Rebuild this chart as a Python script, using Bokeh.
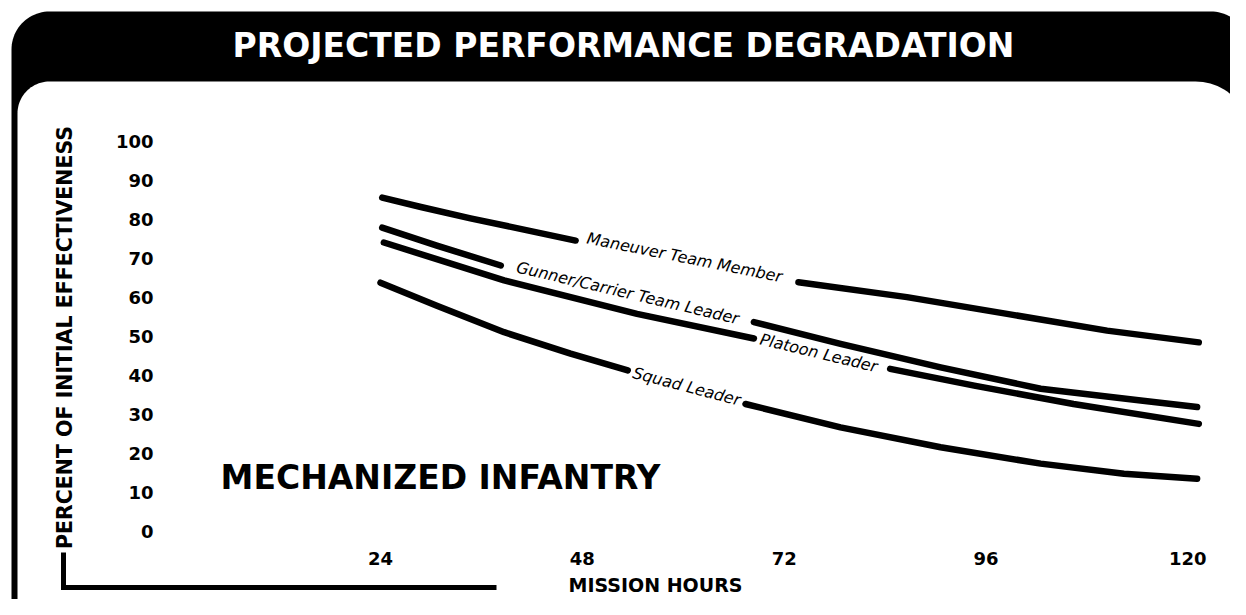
import numpy as np
from bokeh.plotting import figure
from bokeh.models import Range1d
from bokeh.core.properties import value
from bokeh.embed import file_html
from bokeh.resources import INLINE

nan = float("nan")

# ---------------- data ----------------
TITLE = "PROJECTED PERFORMANCE DEGRADATION"
SUBTITLE = "MECHANIZED INFANTRY"
Y_LABEL = "PERCENT OF INITIAL EFFECTIVENESS"
X_LABEL = "MISSION HOURS"

HOUR_TICKS = [24, 48, 72, 96, 120]
PCT_TICKS = [0, 10, 20, 30, 40, 50, 60, 70, 80, 90, 100]

# NaN marks the break in each curve where its name is written
MANEUVER_HOURS = [24.2, 28.8, 34.7, 47.2, nan, 73.7, 86.6, 98.5, 110.4, 121.3]
MANEUVER_PCT = [85.6, 83.2, 80.3, 74.6, nan, 63.9, 60.1, 55.8, 51.5, 48.5]

GUNNER_HOURS = [24.2, 30.7, 38.3, nan, 68.4, 78.7, 90.6, 102.5, 114.4, 121.1]
GUNNER_PCT = [77.9, 73.3, 68.2, nan, 53.7, 48.1, 42.1, 36.6, 33.6, 31.9]

PLATOON_HOURS = [24.4, 38.7, 54.5, 68.4, nan, 84.6, 94.6, 106.4, 121.3]
PLATOON_PCT = [74.1, 64.4, 55.8, 49.5, nan, 41.7, 37.4, 32.7, 27.6]

SQUAD_HOURS = [24.0, 30.7, 38.7, 46.6, 53.4, nan, 67.4, 78.7, 90.6, 102.5, 112.4, 121.1]
SQUAD_PCT = [63.8, 57.9, 51.1, 45.6, 41.3, nan, 32.7, 26.7, 21.6, 17.4, 14.8, 13.5]

SERIES_NAMES = ["Maneuver Team Member", "Gunner/Carrier Team Leader",
                "Platoon Leader", "Squad Leader"]
SERIES_HOURS = [MANEUVER_HOURS, GUNNER_HOURS, PLATOON_HOURS, SQUAD_HOURS]
SERIES_PCT = [MANEUVER_PCT, GUNNER_PCT, PLATOON_PCT, SQUAD_PCT]

LABEL_HOURS = [60.15, 53.4, 76.1, 60.4]
LABEL_PCT = [70.3, 61.2, 45.8, 37.2]
LABEL_ANGLES = [-11.3, -13.2, -13.5, -14.7]

# ---------------- layout ----------------
W, H = 1230, 599
PX_X24 = 380.0          # canvas x of hour 24
PX_PER_HOUR = 8.41
PX_Y0 = 531.0           # canvas y of 0 %
PX_PER_PCT = 3.9

x_start = 24 - PX_X24 / PX_PER_HOUR
x_end = 24 + (W - PX_X24) / PX_PER_HOUR
y_start = (PX_Y0 - H) / PX_PER_PCT
y_end = PX_Y0 / PX_PER_PCT

p = figure(width=W, height=H, output_backend="svg", toolbar_location=None,
           x_range=Range1d(x_start, x_end), y_range=Range1d(y_start, y_end),
           x_axis_type=None, y_axis_type=None, title=None,
           min_border=0, outline_line_color=None,
           background_fill_color="white", border_fill_color="white")
p.extra_x_ranges = {"px": Range1d(0, W)}
p.extra_y_ranges = {"px": Range1d(H, 0)}


def rounded_top_rect(x0, y0, x1, y1, r_tl, r_tr, n=24):
    xs, ys = [], []
    t = np.linspace(np.pi, 1.5 * np.pi, n)
    xs += list(x0 + r_tl + r_tl * np.cos(t))
    ys += list(y0 + r_tl + r_tl * np.sin(t))
    t = np.linspace(1.5 * np.pi, 2 * np.pi, n)
    xs += list(x1 - r_tr + r_tr * np.cos(t))
    ys += list(y0 + r_tr + r_tr * np.sin(t))
    xs += [x1, x0]
    ys += [y1, y1]
    return xs, ys


# black frame + banner
bx, by = rounded_top_rect(11, 11, 1250, 700, 38, 40)
p.patch(bx, by, fill_color="black", line_color=None,
        x_range_name="px", y_range_name="px")
wx, wy = rounded_top_rect(17, 81, 1250, 700, 32, 55)
p.patch(wx, wy, fill_color="white", line_color=None,
        x_range_name="px", y_range_name="px")

BOLD = value("DejaVu Sans")

# title
p.text(x=[623], y=[45], text=[TITLE], text_color="white", text_font=BOLD,
       text_font_style="bold", text_font_size="33px", text_align="center",
       text_baseline="middle", x_range_name="px", y_range_name="px")

# y tick labels
p.text(x=[153] * len(PCT_TICKS), y=PCT_TICKS, text=[str(v) for v in PCT_TICKS],
       text_font=BOLD, text_font_style="bold", text_font_size="18px",
       text_align="right", text_baseline="middle", text_color="black",
       x_range_name="px")

# x tick labels
p.text(x=HOUR_TICKS, y=[558] * len(HOUR_TICKS), text=[str(v) for v in HOUR_TICKS],
       text_font=BOLD, text_font_style="bold", text_font_size="18px",
       text_align="center", text_baseline="middle", text_color="black",
       y_range_name="px")

# axis titles
p.text(x=[64], y=[337], text=[Y_LABEL], angle=90, angle_units="deg",
       text_font=BOLD, text_font_style="bold", text_font_size="20.5px",
       text_align="center", text_baseline="middle", text_color="black",
       x_range_name="px", y_range_name="px")
p.text(x=[655], y=[584], text=[X_LABEL], text_font=BOLD, text_font_style="bold",
       text_font_size="19px", text_align="center", text_baseline="middle",
       text_color="black", x_range_name="px", y_range_name="px")

# bracket under the axes
p.line(x=[63, 63, 496], y=[552, 587, 587], line_width=5, line_color="black",
       line_join="miter", x_range_name="px", y_range_name="px")

# subtitle
p.text(x=[440], y=[477], text=[SUBTITLE], text_font=BOLD, text_font_style="bold",
       text_font_size="33px", text_align="center", text_baseline="middle",
       text_color="black", x_range_name="px", y_range_name="px")

# curves
for hrs, pct in zip(SERIES_HOURS, SERIES_PCT):
    p.line(x=np.array(hrs, dtype=float), y=np.array(pct, dtype=float),
           line_width=6.5, line_color="black", line_cap="round", line_join="round")

# curve labels
p.text(x=LABEL_HOURS, y=LABEL_PCT, text=SERIES_NAMES, angle=LABEL_ANGLES,
       angle_units="deg", text_font=value("DejaVu Sans"), text_font_style="italic",
       text_font_size="16px", text_align="center", text_baseline="middle",
       text_color="black")

open("out.html", "w").write(file_html(p, INLINE))
